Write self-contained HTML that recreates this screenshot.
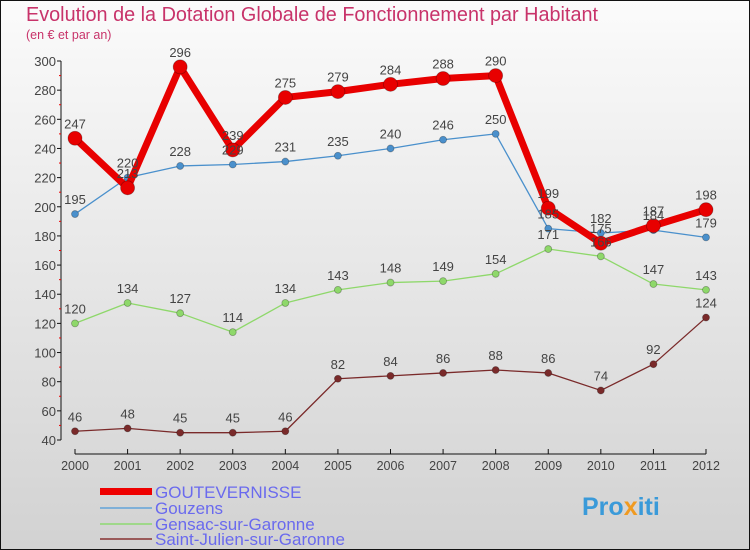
<!DOCTYPE html>
<html><head><meta charset="utf-8"><style>
body{margin:0}
#c{width:750px;height:550px;position:relative;overflow:hidden;font-family:"Liberation Sans",sans-serif}
svg text{font-family:"Liberation Sans",sans-serif}
</style></head><body>
<div id="c">
<svg id="s" width="750" height="550" xmlns="http://www.w3.org/2000/svg">
<defs><linearGradient id="bg" x1="0" y1="0" x2="0" y2="1"><stop offset="0" stop-color="#fbfbfb"/><stop offset="1" stop-color="#d2d2d2"/></linearGradient></defs>
<rect x="0.5" y="0.5" width="749" height="549" fill="url(#bg)" stroke="#111"/>
<text x="26" y="21" font-size="20" fill="#c8336a" textLength="572" lengthAdjust="spacingAndGlyphs">Evolution de la Dotation Globale de Fonctionnement par Habitant</text>
<text x="26" y="39" font-size="12.5" fill="#c8336a">(en € et par an)</text>
<g id="g"></g>
<g>
<rect x="100" y="488" width="52" height="7" fill="#e00"/>
<text x="155" y="498" font-size="17" fill="#6a6aee">GOUTEVERNISSE</text>
<rect x="100" y="507" width="52" height="2" fill="#7fb0d8"/>
<text x="155" y="514" font-size="17" fill="#6a6aee">Gouzens</text>
<rect x="100" y="523" width="52" height="2" fill="#9fd88a"/>
<text x="155" y="530" font-size="17" fill="#6a6aee">Gensac-sur-Garonne</text>
<rect x="100" y="538" width="52" height="2" fill="#9a5a5a"/>
<text x="155" y="545" font-size="17" fill="#6a6aee">Saint-Julien-sur-Garonne</text>
</g>
<text x="582" y="515" font-size="25" font-weight="bold" fill="#3a9ad9">Pro<tspan fill="#f09a20">x</tspan>iti</text>
</svg>
</div>
<script>
const years=["2000","2001","2002","2003","2004","2005","2006","2007","2008","2009","2010","2011","2012"];
const yTicks=[40,60,80,100,120,140,160,180,200,220,240,260,280,300];
const goutevernisse=[247,213,296,239,275,279,284,288,290,199,175,187,198];
const gouzens=[195,220,228,229,231,235,240,246,250,185,182,184,179];
const gensac=[120,134,127,114,134,143,148,149,154,171,166,147,143];
const saintJulien=[46,48,45,45,46,82,84,86,88,86,74,92,124];
const NS="http://www.w3.org/2000/svg";
const g=document.getElementById('g');
const X0=75,X1=706,Y0=440,Y1=61,VMIN=40,VMAX=300;
function xs(i){return X0+(X1-X0)*i/(years.length-1);}
function ys(v){return Y0-(v-VMIN)*(Y0-Y1)/(VMAX-VMIN);}
function mk(t,a){const e=document.createElementNS(NS,t);for(const k in a)e.setAttribute(k,a[k]);g.appendChild(e);return e;}
let e=mk('line',{x1:61,y1:Y1,x2:61,y2:Y0,stroke:'#111'});


yTicks.forEach((v,i)=>{
 const y=ys(v);
 let t=mk('line',{x1:57,y1:y,x2:61,y2:y,stroke:'#111'});
 
 
 if(i<yTicks.length-1){let m=mk('line',{x1:59,y1:y-(Y0-Y1)/26,x2:61,y2:y-(Y0-Y1)/26,stroke:'#e00'});
 
 }
 let l=mk('text',{x:56,y:y+5,'font-size':13,fill:'#444','text-anchor':'end'});l.textContent=v;
 
 
});
e=mk('line',{x1:X0,y1:454,x2:X1,y2:454,stroke:'#111'});


years.forEach((yr,i)=>{
 let t=mk('line',{x1:xs(i),y1:449,x2:xs(i),y2:454,stroke:'#111'});
 
 
 let l=mk('text',{x:xs(i),y:470,'font-size':12.5,fill:'#444','text-anchor':'middle'});l.textContent=yr;
 
 
});
function series(vals,color,w,r,name){
 const pts=vals.map((v,i)=>xs(i)+','+ys(v)).join(' ');
 let p=mk('polyline',{points:pts,fill:'none',stroke:color,'stroke-width':w,'stroke-linejoin':'round'});
 
 
 vals.forEach((v,i)=>{
  let c=mk('circle',{cx:xs(i),cy:ys(v),r:r,fill:color,stroke:'rgba(0,0,0,0.3)','stroke-width':0.8});
  
  
 });
}
function labels(vals,name){
 vals.forEach((v,i)=>{
  let l=mk('text',{x:xs(i),y:ys(v)-10,'font-size':13,fill:'#444','text-anchor':'middle'});l.textContent=v;
  
  
 });
}
series(saintJulien,'#7a2a2a',1.3,3.5,'saint-julien');
series(gensac,'#8ed86a',1.3,3.5,'gensac');
series(gouzens,'#4a90cc',1.3,3.5,'gouzens');
series(goutevernisse,'#e80000',7,7,'goutevernisse');
labels(saintJulien,'saint-julien');
labels(gensac,'gensac');
labels(gouzens,'gouzens');
labels(goutevernisse,'goutevernisse');
</script>
</body></html>
